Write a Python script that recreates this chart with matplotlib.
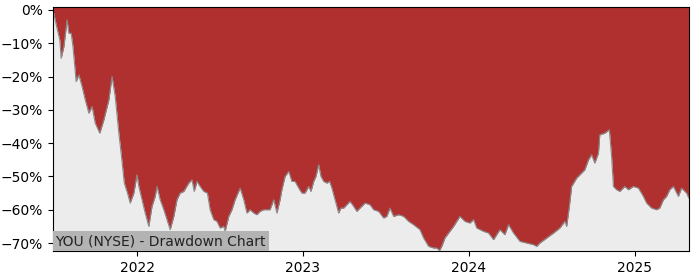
import matplotlib
matplotlib.use('Agg')
import matplotlib.pyplot as plt
import matplotlib.dates as mdates
from matplotlib.ticker import FuncFormatter
import pandas as pd

# drawdown from running peak (percent)
dates = ["2021-06-30", "2021-07-08", "2021-07-15", "2021-07-18", "2021-07-24", "2021-07-31",
         "2021-08-04", "2021-08-09", "2021-08-13", "2021-08-20", "2021-08-26", "2021-09-02",
         "2021-09-09", "2021-09-17", "2021-09-24", "2021-10-01", "2021-10-11", "2021-10-20",
         "2021-10-31", "2021-11-07", "2021-11-14", "2021-11-22", "2021-11-27", "2021-12-04",
         "2021-12-11", "2021-12-17", "2021-12-25", "2022-01-01", "2022-01-05", "2022-01-12",
         "2022-01-19", "2022-01-27", "2022-02-03", "2022-02-10", "2022-02-14", "2022-02-21",
         "2022-03-01", "2022-03-08", "2022-03-15", "2022-03-23", "2022-03-30", "2022-04-06",
         "2022-04-14", "2022-04-25", "2022-05-02", "2022-05-07", "2022-05-13", "2022-05-20",
         "2022-05-28", "2022-06-05", "2022-06-11", "2022-06-19", "2022-06-26", "2022-07-03",
         "2022-07-11", "2022-07-14", "2022-07-22", "2022-07-29", "2022-08-05", "2022-08-16",
         "2022-08-24", "2022-08-31", "2022-09-07", "2022-09-15", "2022-09-22", "2022-09-29",
         "2022-10-07", "2022-10-21", "2022-10-29", "2022-11-05", "2022-11-12", "2022-11-16",
         "2022-11-23", "2022-12-01", "2022-12-08", "2022-12-15", "2022-12-23", "2022-12-30",
         "2023-01-06", "2023-01-14", "2023-01-19", "2023-01-25", "2023-01-30", "2023-02-05",
         "2023-02-10", "2023-02-16", "2023-02-23", "2023-03-01", "2023-03-06", "2023-03-13",
         "2023-03-21", "2023-03-26", "2023-04-01", "2023-04-08", "2023-04-15", "2023-04-23",
         "2023-04-30", "2023-05-07", "2023-05-18", "2023-05-29", "2023-06-06", "2023-06-17",
         "2023-06-28", "2023-07-05", "2023-07-12", "2023-07-20", "2023-07-31", "2023-08-11",
         "2023-08-22", "2023-09-02", "2023-09-16", "2023-09-24", "2023-10-05", "2023-10-16",
         "2023-10-23", "2023-10-29", "2023-11-03", "2023-11-10", "2023-11-18", "2023-11-29",
         "2023-12-13", "2023-12-24", "2024-01-04", "2024-01-12", "2024-01-19", "2024-02-03",
         "2024-02-14", "2024-02-25", "2024-03-10", "2024-03-21", "2024-03-29", "2024-04-09",
         "2024-04-23", "2024-05-08", "2024-05-23", "2024-05-30", "2024-06-06", "2024-06-21",
         "2024-07-06", "2024-07-20", "2024-07-31", "2024-08-04", "2024-08-10", "2024-08-15",
         "2024-08-26", "2024-09-06", "2024-09-13", "2024-09-21", "2024-09-28", "2024-10-05",
         "2024-10-13", "2024-10-16", "2024-10-27", "2024-11-06", "2024-11-11", "2024-11-15",
         "2024-11-22", "2024-11-29", "2024-12-10", "2024-12-18", "2024-12-29", "2025-01-09",
         "2025-01-20", "2025-01-27", "2025-02-07", "2025-02-18", "2025-02-25", "2025-03-05",
         "2025-03-12", "2025-03-19", "2025-03-27", "2025-04-07", "2025-04-14", "2025-04-25",
         "2025-04-30"]
drawdown = [0, -5, -9, -14.5, -11, -3,
            -7, -7, -11, -21.5, -19.5, -23,
            -27, -31, -29, -34, -37, -33,
            -27, -20, -26, -37, -43, -52,
            -55, -58, -55, -49.5, -53, -57,
            -61, -65, -59, -56, -53, -57,
            -60, -63, -66, -62, -57, -55,
            -54.5, -52, -51, -54.5, -51.5, -53,
            -54.5, -55, -60, -63, -63.5, -65.5,
            -65, -66.5, -62, -60, -57, -53.5,
            -57, -61, -60, -61, -61.5, -60.5,
            -60, -60, -57, -61, -57, -54,
            -50, -48.5, -51.5, -51.5, -53.5, -55,
            -55, -53, -54.5, -51.5, -50, -46.5,
            -50, -51.5, -52, -51.5, -53.5, -57,
            -61, -59.5, -59.5, -58.5, -57.5, -59,
            -60.5, -59.5, -58, -58.5, -60, -60.5,
            -62.5, -62, -59.5, -62, -61.5, -62,
            -63.5, -64.5, -66, -68.5, -71, -71.5,
            -71.5, -72.3, -71, -68.5, -67, -65,
            -62, -63.5, -64, -63, -65.5, -66.5,
            -67, -69, -66, -67.5, -64.5, -67,
            -69.5, -70, -70.5, -71, -70, -68.5,
            -67, -65.5, -63.5, -65, -59, -53,
            -50.5, -49, -48, -45, -43.5, -46,
            -43, -37.5, -37, -36, -44, -53,
            -54, -54.5, -53, -54, -53, -53.5,
            -56, -58, -59.5, -60, -59.5, -57,
            -56, -54, -53, -56, -53.5, -55,
            -56.5]

x = pd.to_datetime(dates)
dd = [v / 100.0 for v in drawdown]
top = 0.009
bottom = -0.724

fig = plt.figure(figsize=(7, 2.8), dpi=100)
ax = fig.add_axes([0.0757, 0.1036, 0.9083, 0.8714])
ax.set_facecolor('#ececec')
ax.fill_between(x, dd, top, color='#b03030', linewidth=0)
ax.plot(x, dd, color='#8a8a8a', linewidth=0.8)
ax.set_ylim(bottom, top)
ax.set_xlim(x[0], x[-1])
ax.set_yticks([0, -0.1, -0.2, -0.3, -0.4, -0.5, -0.6, -0.7])
ax.yaxis.set_major_formatter(FuncFormatter(lambda v, p: ('%d%%' % round(v * 100)).replace('-', '\u2212')))
ax.xaxis.set_major_locator(mdates.YearLocator())
ax.xaxis.set_major_formatter(mdates.DateFormatter('%Y'))
ax.text(0.004, 0.012, 'YOU (NYSE) - Drawdown Chart', transform=ax.transAxes,
        fontsize=10, color='#222222', ha='left', va='bottom',
        bbox=dict(facecolor='#b3b3b3', edgecolor='none', pad=2))
fig.savefig('out.png', dpi=100)
